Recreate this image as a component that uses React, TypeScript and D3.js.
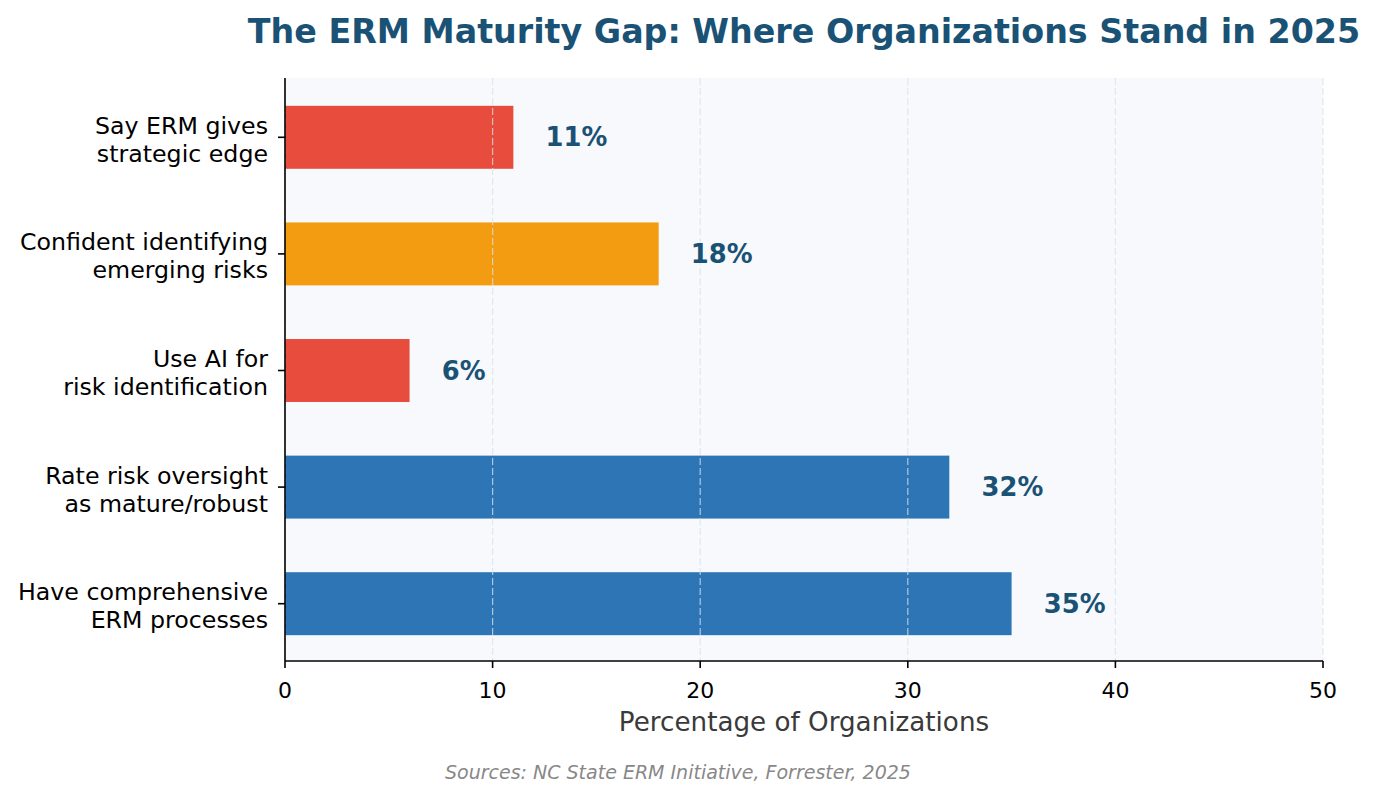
import React, { useEffect } from "react";
import * as d3 from "d3";

const categories: string[][] = [
  ["Say ERM gives", "strategic edge"],
  ["Confident identifying", "emerging risks"],
  ["Use AI for", "risk identification"],
  ["Rate risk oversight", "as mature/robust"],
  ["Have comprehensive", "ERM processes"],
];
const values: number[] = [11, 18, 6, 32, 35];
const barColors: string[] = ["#e74c3c", "#f39c12", "#e74c3c", "#2e75b6", "#2e75b6"];
const xTicks: number[] = [0, 10, 20, 30, 40, 50];

const W = 1378;
const H = 800;
const left = 285;
const right = 1323;
const top = 78;
const bottom = 661;
const FONT = "DejaVu Sans, sans-serif";

export default function App() {
  useEffect(() => {
    document.body.style.margin = "0";
  }, []);

  const x = d3.scaleLinear().domain([0, 50]).range([left, right]);
  const y = d3.scaleLinear().domain([-0.5, 4.5]).range([top + 1, bottom + 1]);
  const barH = (y(1) - y(0)) * 0.54;

  return (
    <svg width={W} height={H} style={{ display: "block" }} fontFamily={FONT}>
      <rect x={0} y={0} width={W} height={H} fill="#ffffff" />
      <rect x={left} y={top} width={right - left} height={bottom - top} fill="#f8f9fc" />
      {values.map((v, i) => (
        <rect
          key={"b" + i}
          x={x(0)}
          y={y(i) - barH / 2}
          width={x(v) - x(0)}
          height={barH}
          fill={barColors[i]}
        />
      ))}
      {xTicks.map((t) => (
        <line
          key={"g" + t}
          x1={x(t)}
          x2={x(t)}
          y1={top}
          y2={bottom}
          stroke="#d8e0ea"
          strokeOpacity={0.75}
          strokeWidth={1.2}
          strokeDasharray="7,3"
        />
      ))}
      {values.map((v, i) => (
        <text
          key={"v" + i}
          x={x(v + 1.55)}
          y={y(i)}
          dy="0.35em"
          fontSize={25.8}
          fontWeight="bold"
          fill="#1a5276"
        >
          {v}%
        </text>
      ))}
      {/* spines */}
      <line x1={left} x2={left} y1={top} y2={bottom} stroke="#000" strokeWidth={1.6} />
      <line x1={left} x2={right} y1={bottom} y2={bottom} stroke="#000" strokeWidth={1.6} />
      {xTicks.map((t) => (
        <g key={"xt" + t}>
          <line x1={x(t)} x2={x(t)} y1={bottom} y2={bottom + 7} stroke="#000" strokeWidth={1.6} />
          <text x={x(t)} y={bottom + 37} textAnchor="middle" fontSize={22} fill="#000">
            {t}
          </text>
        </g>
      ))}
      {categories.map((lines, i) => (
        <g key={"yt" + i}>
          <line x1={left - 7} x2={left} y1={y(i)} y2={y(i)} stroke="#000" strokeWidth={1.6} />
          <text x={left - 17} y={y(i)} textAnchor="end" fontSize={23.7} fill="#000">
            {lines.map((ln, j) => (
              <tspan
                key={j}
                x={left - 17}
                y={y(i) + 2 + (j - (lines.length - 1) / 2) * 28}
                dy="0.36em"
              >
                {ln}
              </tspan>
            ))}
          </text>
        </g>
      ))}
      <text x={(left + right) / 2} y={731} textAnchor="middle" fontSize={26.2} fill="#3a3a3a">
        Percentage of Organizations
      </text>
      <text
        x={(left + right) / 2}
        y={43}
        textAnchor="middle"
        fontSize={33.3}
        fontWeight="bold"
        fill="#1a5276"
      >
        The ERM Maturity Gap: Where Organizations Stand in 2025
      </text>
      <text
        x={678}
        y={779}
        textAnchor="middle"
        fontSize={19}
        fontStyle="italic"
        fill="#888888"
      >
        Sources: NC State ERM Initiative, Forrester, 2025
      </text>
    </svg>
  );
}
